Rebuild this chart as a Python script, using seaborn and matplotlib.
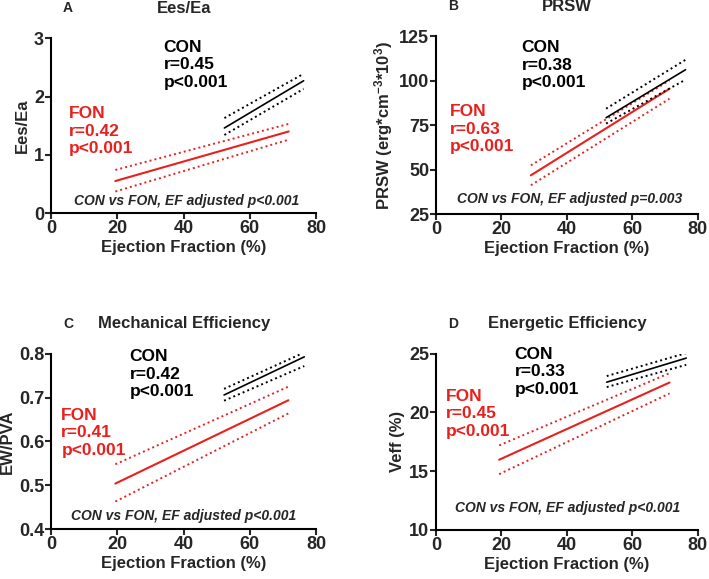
import matplotlib
matplotlib.use("Agg")
import matplotlib.pyplot as plt
import seaborn as sns

# ---- data (regression line + 95% CI ends) ----
A_con_ef = [52.3, 76.2]
A_con_fit = [1.46, 2.27]
A_con_lo = [1.34, 2.13]
A_con_hi = [1.63, 2.39]
A_fon_ef = [19.4, 71.7]
A_fon_fit = [0.55, 1.40]
A_fon_lo = [0.37, 1.26]
A_fon_hi = [0.74, 1.53]

B_con_ef = [52.0, 76.3]
B_con_fit = [79.3, 106.3]
B_con_lo = [76.0, 100.7]
B_con_hi = [84.4, 111.9]
B_fon_ef = [29.0, 71.4]
B_fon_fit = [46.9, 95.6]
B_fon_lo = [41.3, 90.0]
B_fon_hi = [52.5, 100.3]

C_con_ef = [52.2, 76.4]
C_con_fit = [0.706, 0.793]
C_con_lo = [0.693, 0.772]
C_con_hi = [0.720, 0.803]
C_fon_ef = [19.4, 71.6]
C_fon_fit = [0.504, 0.694]
C_fon_lo = [0.463, 0.664]
C_fon_hi = [0.548, 0.725]

D_con_ef = [52.2, 76.5]
D_con_fit = [22.58, 24.63]
D_con_lo = [22.16, 24.06]
D_con_hi = [23.10, 25.06]
D_fon_ef = [19.3, 71.4]
D_fon_fit = [15.97, 22.55]
D_fon_lo = [14.74, 21.62]
D_fon_hi = [17.19, 23.35]

panel_letters = ["A", "B", "C", "D"]
panel_titles = ["Ees/Ea", "PRSW", "Mechanical Efficiency", "Energetic Efficiency"]
y_labels = ["Ees/Ea", r"PRSW (erg*cm$^{-3}$*10$^{3}$)", "EW/PVA", "Veff (%)"]
y_ticks = [[0, 1, 2, 3], [25, 50, 75, 100, 125], [0.4, 0.5, 0.6, 0.7, 0.8], [10, 15, 20, 25]]
y_ticklabels = [["0", "1", "2", "3"], ["25", "50", "75", "100", "125"],
                ["0.4", "0.5", "0.6", "0.7", "0.8"], ["10", "15", "20", "25"]]
con_r = ["0.45", "0.38", "0.42", "0.33"]
fon_r = ["0.42", "0.63", "0.41", "0.45"]
adj_p = ["p<0.001", "p=0.003", "p<0.001", "p<0.001"]
con_text_pos = [(34, 2.97), (26.2, 122.8), (23.7, 0.81), (24, 25.6)]
fon_text_pos = [(5.3, 1.83), (4.2, 86.8), (3.1, 0.677), (3.0, 22.0)]
note_pos = [(41, 0.21), (40.7, 33.4), (40, 0.43), (40.2, 11.85)]

con_lines = [
    (A_con_ef, A_con_fit, A_con_lo, A_con_hi),
    (B_con_ef, B_con_fit, B_con_lo, B_con_hi),
    (C_con_ef, C_con_fit, C_con_lo, C_con_hi),
    (D_con_ef, D_con_fit, D_con_lo, D_con_hi),
]
fon_lines = [
    (A_fon_ef, A_fon_fit, A_fon_lo, A_fon_hi),
    (B_fon_ef, B_fon_fit, B_fon_lo, B_fon_hi),
    (C_fon_ef, C_fon_fit, C_fon_lo, C_fon_hi),
    (D_fon_ef, D_fon_fit, D_fon_lo, D_fon_hi),
]

sns.set_style("ticks")
plt.rcParams["font.family"] = ["Liberation Sans", "DejaVu Sans"]
plt.rcParams["font.weight"] = "bold"
plt.rcParams["axes.labelweight"] = "bold"
plt.rcParams["mathtext.fontset"] = "custom"
plt.rcParams["mathtext.rm"] = "Liberation Sans:bold"
plt.rcParams["mathtext.bf"] = "Liberation Sans:bold"
plt.rcParams["mathtext.it"] = "Liberation Sans:bold:italic"
plt.rcParams["mathtext.default"] = "rm"

RED = "#e8201e"

fig = plt.figure(figsize=(7.09, 5.79), dpi=100)
positions = [
    [0.072, 0.632, 0.374, 0.302],
    [0.615, 0.630, 0.369, 0.307],
    [0.072, 0.086, 0.374, 0.303],
    [0.615, 0.085, 0.369, 0.304],
]


def draw_fit(ax, ef, fit, lo, hi, color, lw):
    sns.lineplot(x=ef, y=fit, color=color, linewidth=lw, ax=ax)
    sns.lineplot(x=ef, y=lo, color=color, linewidth=1.4, linestyle=(0, (1, 1.6)), ax=ax)
    sns.lineplot(x=ef, y=hi, color=color, linewidth=1.4, linestyle=(0, (1, 1.6)), ax=ax)


for i in range(4):
    ax = fig.add_axes(positions[i])
    draw_fit(ax, *fon_lines[i], color=RED, lw=1.5)
    draw_fit(ax, *con_lines[i], color="black", lw=1.2)

    ax.set_xlim(0, 80)
    ax.set_ylim(y_ticks[i][0], y_ticks[i][-1])
    ax.set_xticks([0, 20, 40, 60, 80])
    ax.set_yticks(y_ticks[i])
    ax.set_yticklabels(y_ticklabels[i])
    ax.tick_params(labelsize=13, width=1.5, length=4, pad=1)
    for lab in ax.get_xticklabels() + ax.get_yticklabels():
        lab.set_fontweight("bold")
    sns.despine(ax=ax)
    for s in ["left", "bottom"]:
        ax.spines[s].set_linewidth(1.5)
        ax.spines[s].set_color("black")

    ax.set_xlabel("Ejection Fraction (%)", fontsize=12, labelpad=2)
    ax.set_ylabel(y_labels[i], fontsize=12, labelpad=3)

    ax.text(0.5, 1.17, panel_titles[i], transform=ax.transAxes, ha="center",
            va="center", fontsize=12, fontweight="bold")
    ax.text(0.064, 1.17, panel_letters[i], transform=ax.transAxes, ha="center",
            va="center", fontsize=10, fontweight="bold")

    cx, cy = con_text_pos[i]
    ax.text(cx, cy, f"CON\nr={con_r[i]}\np<0.001", ha="left", va="top",
            fontsize=12.5, fontweight="bold", color="black", linespacing=1.2)
    fx, fy = fon_text_pos[i]
    ax.text(fx, fy, f"FON\nr={fon_r[i]}\np<0.001", ha="left", va="top",
            fontsize=12.5, fontweight="bold", color=RED, linespacing=1.2)
    nx, ny = note_pos[i]
    ax.text(nx, ny, f"CON vs FON, EF adjusted {adj_p[i]}", ha="center",
            va="center", fontsize=10, fontweight="bold", style="italic")

fig.savefig("out.png", dpi=100)
